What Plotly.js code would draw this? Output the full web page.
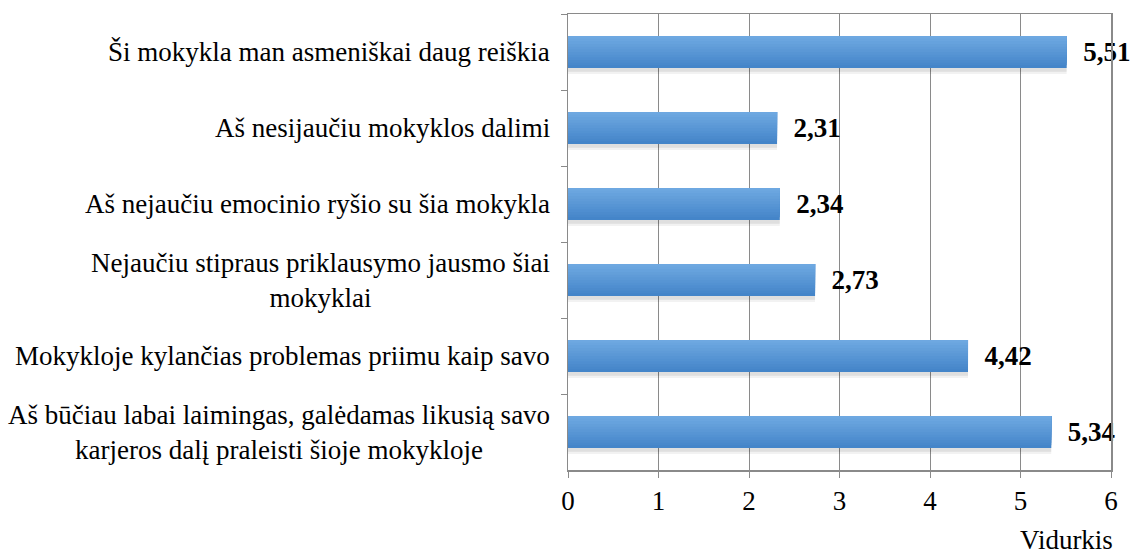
<!DOCTYPE html>
<html>
<head>
<meta charset="utf-8">
<script src="https://cdn.plot.ly/plotly-3.0.1.min.js"></script>
<style>html,body{margin:0;padding:0;background:#fff;}#chart{width:1130px;height:554px;}</style>
</head>
<body>
<div id="chart"></div>
<script>
// Data
const categories = [
  "Ši mokykla man asmeniškai daug reiškia",
  "Aš nesijaučiu mokyklos dalimi",
  "Aš nejaučiu emocinio ryšio su šia mokykla",
  "Nejaučiu stipraus priklausymo jausmo šiai<br>mokyklai",
  "Mokykloje kylančias problemas priimu kaip savo",
  "Aš būčiau labai laimingas, galėdamas likusią savo<br>karjeros dalį praleisti šioje mokykloje"
];
const values = [5.51, 2.31, 2.34, 2.73, 4.42, 5.34];
const xTickVals = [0, 1, 2, 3, 4, 5, 6];
const xTitle = "Vidurkis";

const FONT = "'Liberation Serif', 'Times New Roman', serif";
const FS = 27;
const BW = 0.42;
const fmt = v => v.toFixed(2).replace('.', ',');

const shadows = [];
[[0.08, 'rgba(0,0,0,0.05)'], [0.05, 'rgba(0,0,0,0.08)']].forEach(([d, c]) => {
  shadows.push({type: 'bar', orientation: 'h', x: values, y: categories,
    width: BW, offset: -BW / 2 + d, marker: {color: c, line: {width: 0}},
    hoverinfo: 'skip', showlegend: false});
});
// gradient stripes (top lighter -> bottom darker); widest drawn first
const gTop = [112, 170, 226], gBot = [66, 131, 200];
const N = 12;
const stripes = [];
for (let i = 0; i < N; i++) {
  const t = (N - i - 0.5) / N;
  const c = gTop.map((a, k) => Math.round(a + (gBot[k] - a) * t));
  const tr = {type: 'bar', orientation: 'h', x: values, y: categories,
    width: BW * (N - i) / N, offset: -BW / 2,
    marker: {color: `rgb(${c[0]},${c[1]},${c[2]})`, line: {width: 0}},
    hoverinfo: 'skip', showlegend: false};
  if (i === 0) {
    tr.text = values.map(fmt);
    tr.texttemplate = '\u00a0\u00a0<b>%{text}</b>';
    tr.textposition = 'outside';
    tr.constraintext = 'none';
    tr.cliponaxis = false;
    tr.textfont = {family: FONT, size: FS, color: '#000'};
  }
  stripes.push(tr);
}

const annotations = [];
categories.forEach((c, i) => {
  annotations.push({x: 0, xref: 'paper', y: c, yref: 'y', text: c,
    xanchor: 'right', yanchor: 'middle', align: 'center', xshift: -16,
    showarrow: false, font: {family: FONT, size: FS, color: '#000'}});
});
annotations.push({x: 1, xref: 'paper', xanchor: 'right', xshift: 4, y: 0, yref: 'paper', yanchor: 'top', yshift: -53,
  text: xTitle, showarrow: false, font: {family: FONT, size: FS, color: '#000'}});

const layout = {
  width: 1130, height: 554,
  margin: {l: 568, r: 19, t: 14, b: 84},
  paper_bgcolor: '#fff', plot_bgcolor: '#fff',
  barmode: 'overlay', showlegend: false,
  font: {family: FONT, size: FS, color: '#000'},
  xaxis: {range: [0, 6], tickvals: xTickVals, ticktext: xTickVals.map(String),
    showgrid: true, gridcolor: '#8a8a8a', gridwidth: 1, zeroline: false,
    showline: true, linecolor: '#8a8a8a', linewidth: 1.5, mirror: true,
    ticks: 'outside', ticklen: 6, tickcolor: '#8a8a8a',
    tickfont: {family: FONT, size: FS, color: '#000'}, fixedrange: true},
  yaxis: {type: 'category', autorange: 'reversed', categoryorder: 'array', categoryarray: categories,
    showgrid: false, zeroline: false, showline: true, linecolor: '#8a8a8a', linewidth: 1.5, mirror: true,
    ticks: 'outside', ticklen: 6, tickcolor: '#8a8a8a', tickson: 'boundaries',
    showticklabels: false, fixedrange: true},
  annotations: annotations
};

Plotly.newPlot('chart', shadows.concat(stripes), layout, {staticPlot: true, displayModeBar: false});
</script>
</body>
</html>
